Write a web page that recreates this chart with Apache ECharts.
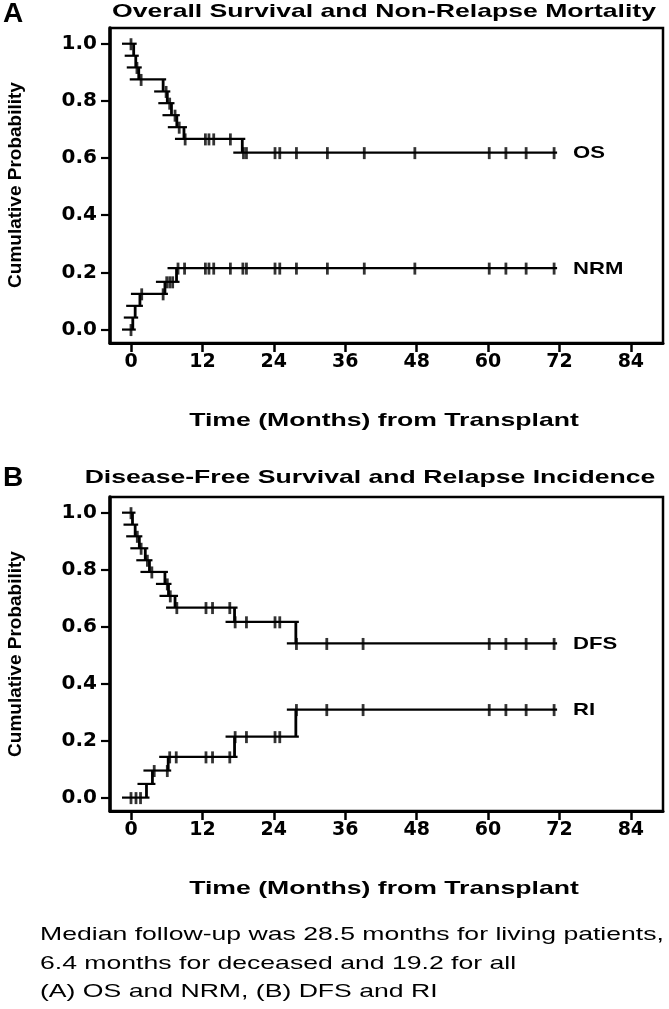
<!DOCTYPE html>
<html>
<head>
<meta charset="utf-8">
<script src="https://cdn.jsdelivr.net/npm/echarts@6/dist/echarts.min.js"></script>
<style>
html,body{margin:0;padding:0;background:#fff;}
#c{width:669px;height:1009px;}
</style>
</head>
<body>
<div id="c"></div>
<script>
// ---------- tick labels ----------
const xTickValues = [0, 12, 24, 36, 48, 60, 72, 84];
const yTickValues = [0.0, 0.2, 0.4, 0.6, 0.8, 1.0];

// ---------- texts ----------
const panelLetters = ['A', 'B'];
const panelTitles = ['Overall Survival and Non-Relapse Mortality', 'Disease-Free Survival and Relapse Incidence'];
const xAxisTitle = 'Time (Months) from Transplant';
const yAxisTitle = 'Cumulative Probability';
const captionLines = [
  'Median follow-up was 28.5 months for living patients,',
  '6.4 months for deceased and 19.2 for all',
  '(A) OS and NRM, (B) DFS and RI'
];

// ---------- Panel A: OS ----------
const osStepTimes  = [0, 0.45, 0.8, 1.3, 5.4, 6.1, 6.8, 7.7, 8.9, 18.7];
const osStepValues = [1.0, 0.958, 0.917, 0.875, 0.833, 0.792, 0.750, 0.708, 0.667, 0.619];
const osCensorTimes  = [0, 1.0, 1.7, 5.9, 6.5, 7.4, 8.1, 9.1, 12.5, 13.1, 13.9, 16.7, 18.9, 19.4, 24.2, 25.0, 27.8, 33.0, 39.2, 47.7, 60.2, 63.0, 66.4, 71.1];
const osCensorValues = [1.0, 0.917, 0.875, 0.833, 0.792, 0.750, 0.708, 0.667, 0.667, 0.667, 0.667, 0.667, 0.619, 0.619, 0.619, 0.619, 0.619, 0.619, 0.619, 0.619, 0.619, 0.619, 0.619, 0.619];

// ---------- Panel A: NRM ----------
const nrmStepTimes  = [0, 0.3, 0.7, 1.5, 5.7, 7.65];
const nrmStepValues = [0.0, 0.042, 0.083, 0.125, 0.167, 0.215];
const nrmCensorTimes  = [0, 1.8, 5.4, 6.0, 6.5, 7.0, 7.9, 9.0, 12.5, 13.1, 13.9, 16.7, 18.8, 19.4, 24.2, 25.0, 27.8, 33.0, 39.2, 47.7, 60.2, 63.0, 66.4, 71.1];
const nrmCensorValues = [0.0, 0.125, 0.125, 0.167, 0.167, 0.167, 0.215, 0.215, 0.215, 0.215, 0.215, 0.215, 0.215, 0.215, 0.215, 0.215, 0.215, 0.215, 0.215, 0.215, 0.215, 0.215, 0.215, 0.215];

// ---------- Panel B: DFS ----------
const dfsStepTimes  = [0, 0.25, 0.7, 1.4, 2.4, 3.1, 5.7, 6.3, 7.4, 17.4, 27.7];
const dfsStepValues = [1.0, 0.958, 0.917, 0.875, 0.833, 0.792, 0.750, 0.708, 0.667, 0.617, 0.541];
const dfsCensorTimes  = [0, 1.06, 1.7, 2.75, 3.5, 6.1, 6.6, 7.7, 12.6, 13.7, 16.6, 17.5, 19.4, 24.2, 25.0, 27.8, 32.9, 39.0, 60.2, 63.0, 66.4, 71.1];
const dfsCensorValues = [1.0, 0.917, 0.875, 0.833, 0.792, 0.750, 0.708, 0.667, 0.667, 0.667, 0.667, 0.617, 0.617, 0.617, 0.617, 0.541, 0.541, 0.541, 0.541, 0.541, 0.541, 0.541];

// ---------- Panel B: RI ----------
const riStepTimes  = [0, 2.6, 3.6, 6.25, 17.4, 27.7];
const riStepValues = [0.0, 0.048, 0.095, 0.143, 0.214, 0.309];
const riCensorTimes  = [0, 0.84, 1.6, 3.9, 6.1, 6.5, 7.6, 12.6, 13.7, 16.6, 17.5, 19.4, 24.2, 25.0, 27.8, 32.9, 39.0, 60.2, 63.0, 66.4, 71.1];
const riCensorValues = [0.0, 0.0, 0.0, 0.095, 0.095, 0.143, 0.143, 0.143, 0.143, 0.143, 0.214, 0.214, 0.214, 0.214, 0.309, 0.309, 0.309, 0.309, 0.309, 0.309, 0.309];

// ---------- styling ----------
const INK = '#000';
const STRETCH = 1.4;           // the scanned figure is horizontally stretched
const BOLD = 'bold 19px "Liberation Sans", Arial, sans-serif';
const REG = '19px "Liberation Sans", Arial, sans-serif';

function stepSeries(name, times, values, endTime, gi) {
  const data = times.map((t, i) => {
    const last = i === times.length - 1;
    return [t, last ? endTime : times[i + 1], values[i], last ? values[i] : values[i + 1]];
  });
  return {
    type: 'custom', name: name, xAxisIndex: gi, yAxisIndex: gi, data: data,
    clip: false, silent: true, z: 2,
    encode: { x: [0, 1], y: [2, 3] },
    renderItem: function (params, api) {
      const last = params.dataIndex === data.length - 1;
      const p0 = api.coord([api.value(0), api.value(2)]);
      const p1 = api.coord([api.value(1), api.value(2)]);
      const pn = api.coord([api.value(1), api.value(3)]);
      const children = [{
        type: 'line',
        shape: { x1: p0[0] - 9, y1: p0[1], x2: p1[0] + 3, y2: p1[1] },
        style: { stroke: INK, lineWidth: 2.2 }
      }];
      if (!last) {
        children.push({
          type: 'line',
          shape: { x1: p1[0], y1: p1[1], x2: pn[0], y2: pn[1] },
          style: { stroke: INK, lineWidth: 2.8 }
        });
      } else {
        children.push({
          type: 'text', x: p1[0] + 19, y: p1[1] + 1, scaleX: 1.3,
          style: { text: name, font: 'bold 17px "Liberation Sans", Arial, sans-serif', fill: INK,
                   textAlign: 'left', align: 'left', textVerticalAlign: 'middle', verticalAlign: 'middle' }
        });
      }
      return { type: 'group', children: children };
    }
  };
}

function censorSeries(name, times, values, gi) {
  return {
    type: 'scatter', name: name + ' censored', xAxisIndex: gi, yAxisIndex: gi,
    data: times.map((t, i) => [t, values[i]]),
    symbol: 'rect', symbolSize: [2.8, 12], symbolOffset: [0, 0.5],
    itemStyle: { color: INK }, silent: true, z: 3
  };
}

function xAxisFor(gi) {
  return {
    type: 'value', gridIndex: gi, min: -3.53, max: 89.4,
    splitLine: { show: false },
    axisLine: { show: true, onZero: false, lineStyle: { color: INK, width: 3 } },
    axisTick: { show: true, customValues: xTickValues, length: 9, lineStyle: { color: INK, width: 2.5 } },
    axisLabel: { show: true, customValues: xTickValues, margin: 10, color: INK,
                 fontFamily: 'DejaVu Sans', fontWeight: 'bold', fontSize: 19 }
  };
}
function yAxisFor(gi) {
  return {
    type: 'value', gridIndex: gi, min: -0.047, max: 1.055,
    splitLine: { show: false },
    axisLine: { show: true, onZero: false, lineStyle: { color: INK, width: 3.5 } },
    axisTick: { show: true, customValues: yTickValues, length: 9, lineStyle: { color: INK, width: 2.2 } },
    axisLabel: { show: true, customValues: yTickValues, margin: 13, color: INK,
                 fontFamily: 'DejaVu Sans', fontWeight: 'bold', fontSize: 20,
                 formatter: v => v.toFixed(1) }
  };
}

function txt(x, y, text, font, extra) {
  return Object.assign({
    type: 'text', x: x, y: y, silent: true,
    style: { text: text, font: font, fill: INK, textAlign: 'center', align: 'center',
             textVerticalAlign: 'middle', verticalAlign: 'middle' }
  }, extra || {});
}

const graphics = [
  txt(13, 14, panelLetters[0], 'bold 28px "Liberation Sans", Arial, sans-serif'),
  txt(13, 478, panelLetters[1], 'bold 28px "Liberation Sans", Arial, sans-serif'),
  txt(384, 12, panelTitles[0], BOLD, { scaleX: STRETCH }),
  txt(370, 478, panelTitles[1], BOLD, { scaleX: STRETCH }),
  txt(384, 421, xAxisTitle, BOLD, { scaleX: STRETCH }),
  txt(384, 889, xAxisTitle, BOLD, { scaleX: STRETCH }),
  txt(16, 185, yAxisTitle, BOLD, { rotation: Math.PI / 2 }),
  txt(16, 654, yAxisTitle, BOLD, { rotation: Math.PI / 2 })
];
captionLines.forEach((line, i) => {
  const g = txt(40, 935 + i * 28.5, line, REG, { scaleX: STRETCH });
  g.style.textAlign = 'left'; g.style.align = 'left';
  graphics.push(g);
});

const option = {
  backgroundColor: '#fff',
  animation: false,
  grid: [
    { left: 110, top: 28, width: 553, height: 315, show: true, borderColor: INK, borderWidth: 2.5 },
    { left: 110, top: 497, width: 553, height: 314, show: true, borderColor: INK, borderWidth: 2.5 }
  ],
  xAxis: [xAxisFor(0), xAxisFor(1)],
  yAxis: [yAxisFor(0), yAxisFor(1)],
  series: [
    stepSeries('OS', osStepTimes, osStepValues, osCensorTimes[osCensorTimes.length - 1], 0),
    censorSeries('OS', osCensorTimes, osCensorValues, 0),
    stepSeries('NRM', nrmStepTimes, nrmStepValues, nrmCensorTimes[nrmCensorTimes.length - 1], 0),
    censorSeries('NRM', nrmCensorTimes, nrmCensorValues, 0),
    stepSeries('DFS', dfsStepTimes, dfsStepValues, dfsCensorTimes[dfsCensorTimes.length - 1], 1),
    censorSeries('DFS', dfsCensorTimes, dfsCensorValues, 1),
    stepSeries('RI', riStepTimes, riStepValues, riCensorTimes[riCensorTimes.length - 1], 1),
    censorSeries('RI', riCensorTimes, riCensorValues, 1)
  ],
  graphic: graphics
};

const chart = echarts.init(document.getElementById('c'), null, { renderer: 'canvas' });
chart.setOption(option);
</script>
</body>
</html>
